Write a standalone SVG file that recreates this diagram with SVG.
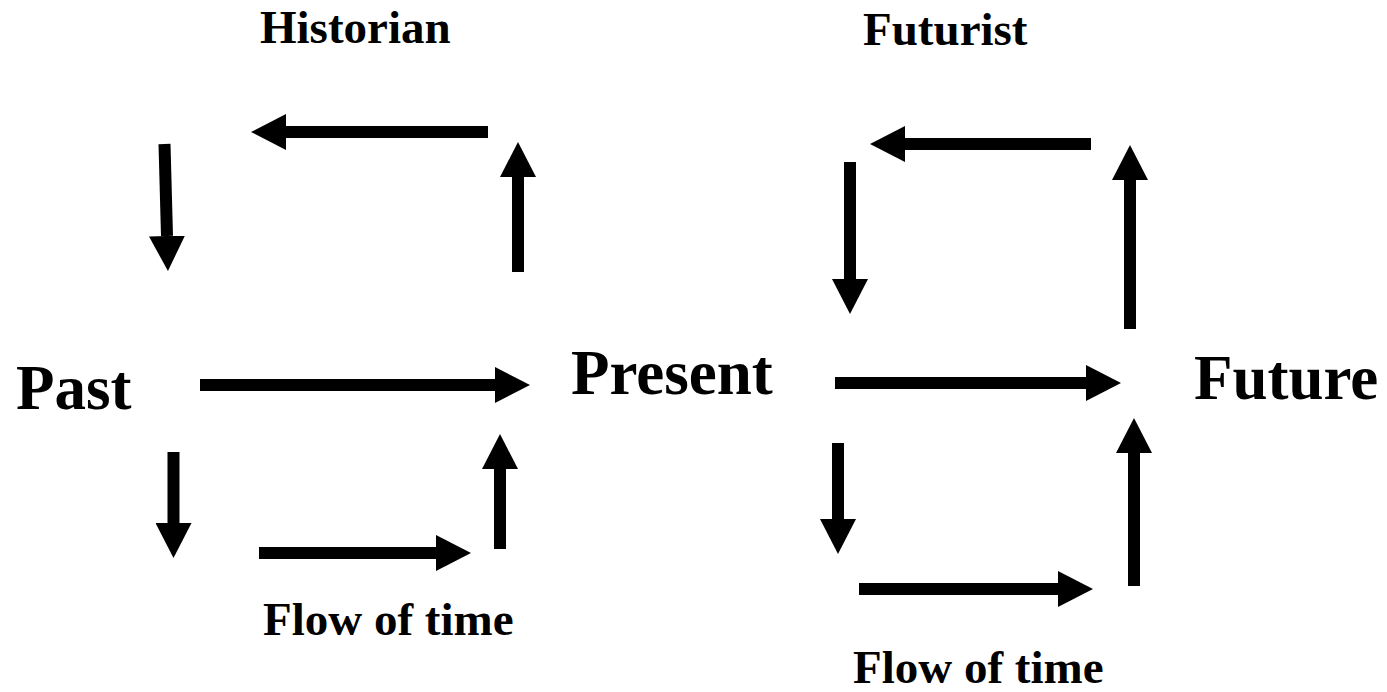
<svg xmlns="http://www.w3.org/2000/svg" width="1387" height="692" viewBox="0 0 1387 692">
<style>
.lbl{font-family:"Liberation Serif","Times New Roman",serif;font-weight:bold;fill:#000}
.big{font-size:63px}
.small{font-size:47px}
.arr{stroke:#000;stroke-width:12;fill:none;marker-end:url(#head)}
</style>
<defs>
<marker id="head" markerUnits="userSpaceOnUse" markerWidth="36" markerHeight="36" refX="0" refY="18" orient="auto" viewBox="0 0 36 36">
<path d="M0,0 L35,18 L0,36 Z" fill="#000"/>
</marker>
</defs>
<rect width="1387" height="692" fill="#fff"/>
<g id="past"><text class="lbl big" x="16" y="409">Past</text></g>
<g id="present"><text class="lbl big" x="571" y="394">Present</text></g>
<g id="future"><text class="lbl big" x="1194" y="399">Future</text></g>
<g id="historian"><text class="lbl small" x="260" y="43">Historian</text></g>
<g id="futurist"><text class="lbl small" x="863" y="45">Futurist</text></g>
<g id="flow1"><text class="lbl small" x="263" y="635">Flow of time</text></g>
<g id="flow2"><text class="lbl small" x="853" y="683">Flow of time</text></g>
<g id="connectors">
<line class="arr" x1="488" y1="132" x2="286" y2="132"/>
<line class="arr" x1="164.5" y1="144" x2="167" y2="236"/>
<line class="arr" x1="518" y1="272" x2="518" y2="177"/>
<line class="arr" x1="200" y1="385" x2="495" y2="385"/>
<line class="arr" x1="173.5" y1="452" x2="173.5" y2="523"/>
<line class="arr" x1="259" y1="553" x2="436" y2="553"/>
<line class="arr" x1="500" y1="549" x2="500" y2="469"/>
<line class="arr" x1="1091" y1="144" x2="905" y2="144"/>
<line class="arr" x1="850" y1="162" x2="850" y2="279"/>
<line class="arr" x1="1130" y1="329" x2="1130" y2="180"/>
<line class="arr" x1="835" y1="383" x2="1086" y2="383"/>
<line class="arr" x1="838" y1="443" x2="838" y2="519"/>
<line class="arr" x1="859" y1="589" x2="1058" y2="589"/>
<line class="arr" x1="1134" y1="586" x2="1134" y2="453"/>
</g>
</svg>
